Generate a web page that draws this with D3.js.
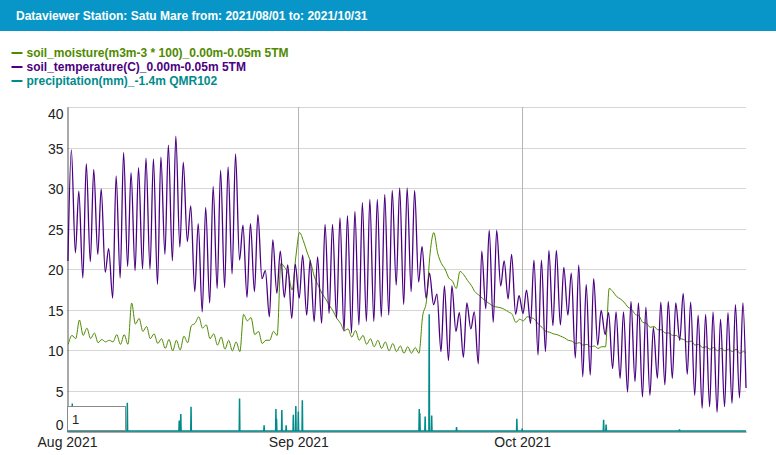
<!DOCTYPE html>
<html>
<head>
<meta charset="utf-8">
<script src="https://cdn.jsdelivr.net/npm/d3@7"></script>
<style>
  body { margin: 0; background: #fff; font-family: "Liberation Sans", Arial, sans-serif; }
  svg { display: block; }
  .legend-text { font-size: 12px; font-weight: bold; }
  .tick text { font-size: 14px; fill: #222; font-family: "Liberation Sans", Arial, sans-serif; }
</style>
</head>
<body>
<svg id="chart" width="776" height="455"></svg>
<script>
// data: one low (early morning) and one high (afternoon) per day, Aug 1 .. Oct 30
const startDay = new Date(2021, 7, 1);
const endTime = new Date(2021, 9, 31, 0);

const tempLow = [21.0, 22.0, 18.9, 20.9, 21.8, 19.6, 16.4, 18.9, 20.3, 19.8,
  20.0, 20.0, 18.1, 21.8, 21.0, 22.7, 23.4, 17.2, 14.7, 15.8,
  17.6, 17.7, 19.4, 21.1, 16.5, 17.2, 18.8, 14.1, 17.0, 16.5,
  13.9, 16.4, 14.3, 13.5, 13.3, 14.5, 13.9, 12.3, 12.1, 13.1,
  13.5, 13.5, 14.1, 14.3, 18.0, 15.6, 17.2, 18.4, 16.4, 15.6,
  9.8, 8.7, 12.3, 9.1, 12.6, 8.3, 15.1, 13.4, 17.9, 16.3,
  14.4, 14.5, 13.3, 9.4, 9.8, 13.0, 13.1, 14.3, 9.0, 6.7,
  6.9, 10.6, 11.9, 7.7, 6.5, 4.8, 6.1, 4.2, 4.4, 6.5,
  5.7, 6.5, 11.2, 7.0, 4.4, 2.8, 3.0, 2.3, 3.0, 3.4, 4.1];
const tempHigh = [34.7, 29.6, 33.0, 32.3, 29.9, 22.5, 31.5, 34.4, 31.9, 32.5,
  33.7, 33.6, 33.8, 35.3, 36.4, 33.2, 27.8, 25.6, 27.6, 30.2,
  32.2, 32.6, 34.2, 25.4, 25.6, 26.7, 19.8, 23.6, 22.2, 20.5,
  20.6, 21.7, 21.1, 21.5, 25.5, 25.5, 26.3, 26.6, 27.1, 28.2,
  28.6, 28.6, 29.2, 29.7, 30.0, 30.0, 29.7, 22.8, 19.5, 16.9,
  17.9, 17.9, 14.6, 15.8, 14.7, 22.2, 24.8, 24.8, 21.0, 21.8,
  16.7, 17.4, 21.1, 21.1, 22.3, 22.3, 20.2, 19.5, 20.5, 18.1,
  18.8, 14.9, 14.6, 14.7, 14.7, 16.0, 15.8, 15.3, 12.8, 15.9,
  16.0, 15.8, 17.0, 15.9, 14.3, 14.4, 14.7, 13.8, 14.6, 15.6, 15.8];
const tempLast = 5.3;

const moistLow = [10.7, 11.4, 11.8, 11.4, 10.9, 11.0, 11.0, 10.7, 10.7, 13.2,
  12.3, 11.4, 10.8, 10.2, 9.9, 10.0, 10.9, 13.3, 12.7, 11.4,
  10.6, 10.1, 9.9, 9.8, 13.6, 11.9, 10.8, 11.2, 11.8, 20.2,
  17.4, 24.5, 22.1, 19.0, 17.0, 15.5, 13.9, 12.4, 11.6, 11.2,
  10.7, 10.4, 10.2, 9.9, 9.8, 9.6, 9.6, 9.6, 16.0, 24.5,
  20.7, 18.9, 17.6, 19.3, 18.0, 16.8, 16.0, 15.4, 15.2, 14.7,
  13.4, 13.6, 14.0, 13.2, 12.3, 12.0, 11.7, 11.2, 10.8, 10.6,
  10.4, 10.2, 10.4, 17.2, 16.3, 15.3, 14.4, 13.4, 12.8, 12.5,
  12.1, 11.8, 11.4, 11.0, 10.6, 10.3, 10.1, 9.9, 9.9, 9.8, 9.6];
const moistHigh = [11.8, 13.7, 12.7, 12.1, 11.3, 11.2, 11.9, 11.9, 15.8, 13.9,
  12.9, 12.0, 11.4, 11.3, 11.2, 11.7, 13.0, 14.1, 13.1, 12.0,
  11.6, 11.2, 11.0, 14.4, 14.0, 12.3, 11.2, 12.3, 20.7, 19.4,
  21.5, 23.5, 20.8, 18.0, 16.3, 14.8, 13.3, 12.6, 12.4, 11.8,
  11.4, 11.2, 11.0, 10.8, 10.5, 10.4, 10.3, 14.2, 22.0, 22.0,
  20.0, 18.5, 19.7, 18.6, 17.2, 16.4, 15.7, 15.3, 15.0, 14.4,
  13.8, 14.1, 13.8, 12.8, 12.2, 11.9, 11.5, 11.1, 10.9, 10.7,
  10.5, 10.4, 17.6, 16.6, 15.9, 15.0, 14.2, 13.3, 12.9, 12.5,
  12.1, 11.8, 11.3, 11.1, 10.7, 10.4, 10.3, 10.2, 10.1, 10.1, 9.8];
const moistLast = 9.6;

// rain events: "date hour" and mm
const rainTimes = ["2021-08-01 17", "2021-08-09 02", "2021-08-16 01", "2021-08-16 06", "2021-08-17 15",
  "2021-08-24 03", "2021-08-27 10", "2021-08-29 00", "2021-08-29 02", "2021-08-29 19",
  "2021-08-30 09", "2021-08-31 08", "2021-08-31 16", "2021-09-01 00", "2021-09-01 13",
  "2021-09-17 05", "2021-09-17 07", "2021-09-18 00", "2021-09-18 13", "2021-09-18 21",
  "2021-09-22 05", "2021-09-30 07", "2021-10-01 00", "2021-10-11 22", "2021-10-12 06",
  "2021-10-22 02"];
const rainValues = [3.4, 3.5, 1.3, 2.1, 3.0,
  4.0, 0.7, 2.7, 1.5, 2.6,
  0.7, 2.0, 3.1, 2.4, 3.8,
  2.7, 2.2, 1.8, 14.4, 1.9,
  0.5, 1.5, 0.3, 1.4, 0.8,
  0.2];

const yTicks = [0, 5, 10, 15, 20, 25, 30, 35, 40];
const xTicks = ["2021-08-01", "2021-09-01", "2021-10-01"];

const seriesNames = ["soil_moisture(m3m-3 * 100)_0.00m-0.05m 5TM",
  "soil_temperature(C)_0.00m-0.05m 5TM",
  "precipitation(mm)_-1.4m QMR102"];
const seriesColors = ["#4f8a00", "#4b0082", "#008b8b"];

const titleText = "Dataviewer Station: Satu Mare from: 2021/08/01 to: 2021/10/31";

document.addEventListener('DOMContentLoaded', function () {
  draw();
});

function hourOf(day, h) {
  return new Date(2021, 7, 1 + day, h);
}

function draw() {
  const svg = d3.select('#chart');
  const plot = { left: 67, right: 746, top: 107, bottom: 431 };

  // header bar
  svg.append('rect')
    .attr('x', 0).attr('y', 0)
    .attr('width', 776).attr('height', 31)
    .attr('fill', '#0896c8');
  svg.append('text')
    .attr('x', 16).attr('y', 19.5)
    .attr('fill', '#fff')
    .attr('font-size', '12px')
    .attr('font-weight', 'bold')
    .text(titleText);

  // legend
  seriesNames.forEach(function (name, i) {
    const base = 56.5 + i * 14;
    svg.append('line')
      .attr('x1', 11.5).attr('x2', 22.5)
      .attr('y1', base - 3.5).attr('y2', base - 3.5)
      .attr('stroke', seriesColors[i])
      .attr('stroke-width', 2);
    svg.append('text')
      .attr('class', 'legend-text')
      .attr('x', 26.5).attr('y', base)
      .attr('fill', seriesColors[i])
      .text(name);
  });

  const x = d3.scaleTime()
    .domain([startDay, endTime])
    .range([plot.left, plot.right]);
  const y = d3.scaleLinear()
    .domain([0, 40])
    .range([plot.bottom, plot.top]);

  // grid
  svg.append('g')
    .selectAll('line')
    .data(yTicks.filter(d => d > 0))
    .join('line')
    .attr('x1', plot.left).attr('x2', plot.right)
    .attr('y1', d => Math.round(y(d)) + 0.5).attr('y2', d => Math.round(y(d)) + 0.5)
    .attr('stroke', '#d6d6d6')
    .attr('stroke-width', 1);

  const monthTicks = xTicks.map(s => d3.timeParse('%Y-%m-%d')(s));
  svg.append('g')
    .selectAll('line')
    .data(monthTicks.slice(1))
    .join('line')
    .attr('x1', d => Math.round(x(d)) + 0.5).attr('x2', d => Math.round(x(d)) + 0.5)
    .attr('y1', plot.top).attr('y2', plot.bottom)
    .attr('stroke', '#b4b4b4')
    .attr('stroke-width', 1);

  // axes
  const yAxis = svg.append('g')
    .attr('transform', 'translate(' + (plot.left + 0.5) + ',0)')
    .call(d3.axisLeft(y).tickValues(yTicks).tickSize(0).tickPadding(4).tickFormat(d3.format('d')));
  yAxis.select('.domain').attr('stroke', '#555');
  yAxis.selectAll('.tick text')
    .attr('dy', d => d === 40 ? '0.85em' : (d === 0 ? '-0.1em' : '0.42em'));

  const xAxis = svg.append('g')
    .attr('transform', 'translate(0,' + (plot.bottom + 0.5) + ')')
    .call(d3.axisBottom(x).tickValues(monthTicks).tickSize(0).tickPadding(5.5)
      .tickFormat(d3.timeFormat('%b %Y')));
  xAxis.select('.domain').attr('stroke', '#555');

  // series
  const temp = [];
  const moist = [];
  tempLow.forEach(function (v, i) {
    temp.push({ t: hourOf(i, 3), v: v });
    temp.push({ t: hourOf(i, 14), v: tempHigh[i] });
    moist.push({ t: hourOf(i, 4), v: moistLow[i] });
    moist.push({ t: hourOf(i, 16), v: moistHigh[i] });
  });
  temp.push({ t: endTime, v: tempLast });
  moist.push({ t: endTime, v: moistLast });

  const rainParse = d3.timeParse('%Y-%m-%d %H');
  const rain = [{ t: startDay, v: 0 }];
  rainTimes.forEach(function (s, i) {
    const t = rainParse(s);
    rain.push({ t: d3.timeHour.offset(t, -1), v: 0 });
    rain.push({ t: t, v: rainValues[i] });
    rain.push({ t: d3.timeHour.offset(t, 1), v: 0 });
  });
  rain.push({ t: endTime, v: 0 });

  const line = d3.line()
    .x(d => x(d.t))
    .y(d => y(d.v));

  svg.append('path')
    .datum(moist)
    .attr('fill', 'none')
    .attr('stroke', seriesColors[0])
    .attr('stroke-width', 1)
    .attr('d', line.curve(d3.curveMonotoneX));

  svg.append('path')
    .datum(temp)
    .attr('fill', 'none')
    .attr('stroke', seriesColors[1])
    .attr('stroke-width', 1.3)
    .attr('d', line.curve(d3.curveMonotoneX));

  svg.append('path')
    .datum(rain)
    .attr('fill', 'none')
    .attr('stroke', seriesColors[2])
    .attr('stroke-width', 1.5)
    .attr('d', line.curve(d3.curveLinear));

  // roll period box
  svg.append('rect')
    .attr('x', 67.5).attr('y', 406.5)
    .attr('width', 58).attr('height', 24)
    .attr('fill', '#fff')
    .attr('stroke', '#8a8a8a');
  svg.append('text')
    .attr('x', 72).attr('y', 424)
    .attr('font-size', '13px')
    .attr('fill', '#222')
    .text('1');
}
</script>
</body>
</html>
